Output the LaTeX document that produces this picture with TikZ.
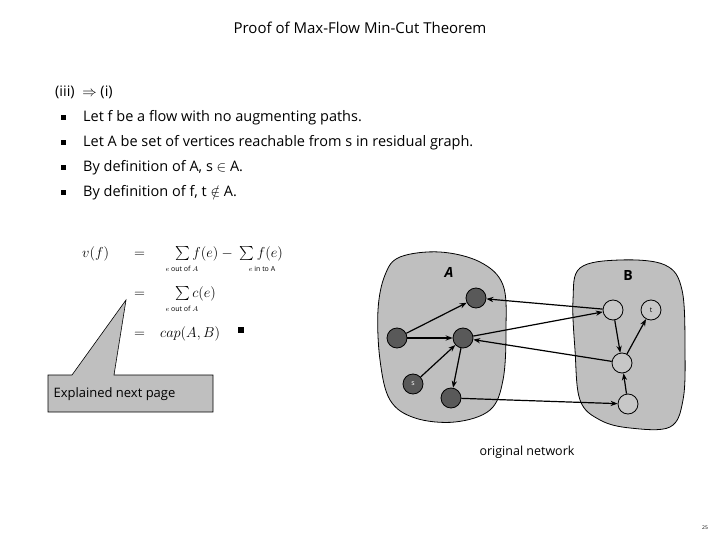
\documentclass[tikz,border=0pt]{standalone}
\usepackage{fontspec}
\setmainfont{Open Sans}
\usepackage{amsmath}
\usepackage{amssymb}
\usetikzlibrary{arrows.meta}
\tikzset{
  dark/.style={circle, draw=black, fill=black!65, minimum size=20pt, inner sep=0pt, line width=0.8pt},
  light/.style={circle, draw=black, fill=black!22, minimum size=20pt, inner sep=0pt, line width=0.8pt},
  blob/.style={draw=black, fill=black!25, line width=0.8pt},
  flow/.style={-{Stealth[length=7pt]}, line width=1.2pt},
  txt/.style={anchor=west, inner sep=0pt, font=\fontsize{14.5pt}{16pt}\selectfont},
  eqn/.style={anchor=base west, inner sep=0pt, font=\fontsize{14pt}{16pt}\selectfont},
  sub/.style={anchor=base, inner sep=0pt, font=\fontsize{7pt}{8pt}\selectfont}
}
\begin{document}
\begin{tikzpicture}[x=1pt,y=-1pt]
\useasboundingbox (0,0) rectangle (720,540);
\node (title) at (360,28) {\fontsize{15pt}{17pt}\selectfont Proof of Max-Flow Min-Cut Theorem};
\node[txt] (l0) at (55,92) {(iii) \ $\Rightarrow$ (i)};
\node[txt] (l1) at (83,118) {Let f be a flow with no augmenting paths.};
\node[txt] (l2) at (83,143) {Let A be set of vertices reachable from s in residual graph.};
\node[txt] (l3) at (83,168) {By definition of A, s $\in$ A.};
\node[txt] (l4) at (83,193) {By definition of f, t $\notin$ A.};
\foreach \y in {118,143,168,193}
  \fill (61,\y-2.5) rectangle (66,\y+2.5);
% formula
\node[eqn] (vf) at (82,257) {$v(f)$};
\node[eqn] (eq1) at (134,257) {$=$};
\node[eqn] (r1) at (175,257) {$\sum f(e)-\ \sum f(e)$};
\node[sub] (s1) at (182,271) {$e$ out of $A$};
\node[sub] (s2) at (262,271) {$e$ in to A};
\node[eqn] (eq2) at (134,297) {$=$};
\node[eqn] (r2) at (175,297) {$\sum c(e)$};
\node[sub] (s3) at (182,311) {$e$ out of $A$};
\node[eqn] (eq3) at (134,337) {$=$};
\node[eqn] (r3) at (160,337) {$cap(A,B)$};
\fill (238,327) rectangle (244,333);
% callout
\draw[blob, line width=0.6pt] (48,375) -- (72,375) -- (126,300) -- (114,375) -- (213,375) -- (213,412) -- (48,412) -- cycle;
\node[anchor=west, font=\fontsize{13pt}{15pt}\selectfont] (expl) at (50,394) {Explained next page};
% blobs
\draw[blob] plot[smooth cycle, tension=0.6] coordinates {(400,257) (440,252) (480,262) (503,285) (506,330) (503,380) (490,410) (455,422) (415,418) (390,400) (380,360) (378,310) (385,275)};
\draw[blob] plot[smooth cycle, tension=0.6] coordinates {(580,268) (620,260) (665,265) (682,290) (685,350) (683,400) (670,427) (630,428) (600,420) (580,400) (575,350) (573,300)};
\node[font=\fontsize{14pt}{16pt}\bfseries\itshape] (labA) at (449,272) {A};
\node[font=\fontsize{14pt}{16pt}\bfseries] (labB) at (628,276) {B};
\node[dark] (a1) at (476,298) {};
\node[dark] (a2) at (397,338) {};
\node[dark] (a3) at (463,338) {};
\node[dark, text=white, font=\scriptsize] (s) at (413,384) {s};
\node[dark] (a4) at (451,398) {};
\node[light] (b1) at (613,310) {};
\node[light, font=\scriptsize] (t) at (651,310) {t};
\node[light] (b2) at (622,363) {};
\node[light] (b3) at (628,404) {};
\draw[flow] (a2) -- (a1);
\draw[flow] (a2) -- (a3);
\draw[flow] (s) -- (a3);
\draw[flow] (a3) -- (a4);
\draw[flow] (b1) -- (a1);
\draw[flow] (a3) -- (b1);
\draw[flow] (b2) -- (a3);
\draw[flow] (a4) -- (b3);
\draw[flow] (b1) -- (b2);
\draw[flow] (b2) -- (t);
\draw[flow] (b3) -- (b2);
\node[font=\fontsize{12.5pt}{14pt}\selectfont] (orig) at (527,452) {original network};
\node (page) at (705,528) {\tiny 25};
\end{tikzpicture}
\end{document}
